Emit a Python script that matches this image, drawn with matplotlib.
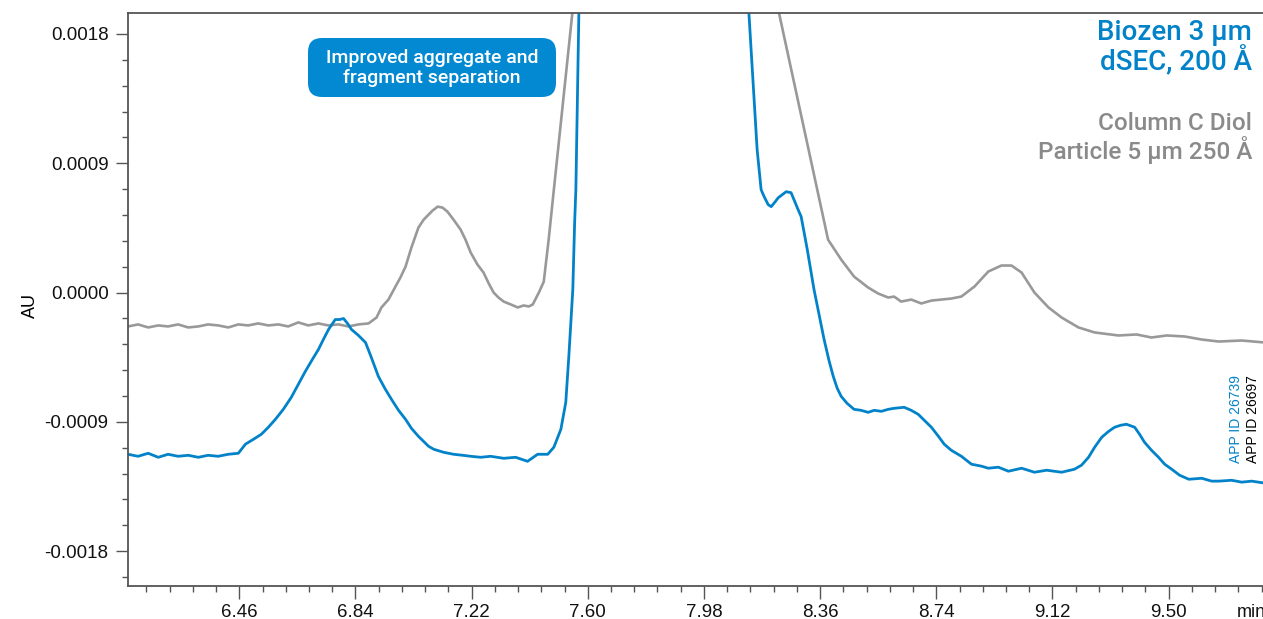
import matplotlib
matplotlib.use("Agg")
import matplotlib.pyplot as plt
from matplotlib.patches import FancyBboxPatch
from matplotlib.ticker import FixedLocator, MultipleLocator

# -------------------------------
# Datos (min, AU) leidos del cromatograma
# -------------------------------
gray_time = [
    6.096, 6.129, 6.162, 6.195, 6.227, 6.260, 6.293, 6.326, 6.358, 6.391,
    6.424, 6.457, 6.489, 6.522, 6.555, 6.588, 6.620, 6.653, 6.686, 6.719,
    6.751, 6.784, 6.817, 6.850, 6.883, 6.909, 6.925, 6.948, 6.971, 6.987,
    7.004, 7.023, 7.046, 7.063, 7.079, 7.092, 7.109, 7.125, 7.141, 7.161,
    7.184, 7.200, 7.217, 7.239, 7.259, 7.276, 7.292, 7.308, 7.325, 7.348,
    7.371, 7.390, 7.407, 7.420, 7.440, 7.456, 7.472, 7.489, 7.623, 7.849,
    8.075, 8.386, 8.429, 8.471, 8.517, 8.550, 8.583, 8.602, 8.625, 8.658,
    8.691, 8.724, 8.756, 8.789, 8.822, 8.865, 8.910, 8.953, 8.986, 9.019,
    9.061, 9.107, 9.150, 9.205, 9.258, 9.336, 9.395, 9.444, 9.494, 9.553,
    9.608, 9.664, 9.739, 9.815,
]
gray_au = [
    -0.000236, -0.000222, -0.000243, -0.000229, -0.000236, -0.000222, -0.000243, -0.000236, -0.000222, -0.000229,
    -0.000243, -0.000222, -0.000229, -0.000215, -0.000229, -0.000222, -0.000236, -0.000208, -0.000229, -0.000215,
    -0.000229, -0.000222, -0.000236, -0.000222, -0.000215, -0.000174, -0.000104, -0.000049, 0.000042, 0.000104,
    0.000181, 0.000313, 0.000452, 0.000507, 0.000542, 0.000570, 0.000598, 0.000591, 0.000563, 0.000507,
    0.000438, 0.000368, 0.000278, 0.000195, 0.000139, 0.000063, 0.000000, -0.000035, -0.000063, -0.000083,
    -0.000104, -0.000090, -0.000097, -0.000083, 0.000000, 0.000076, 0.000368, 0.000716, 0.003440, 0.006210,
    0.003426, 0.000368, 0.000229, 0.000111, 0.000035, -0.000007, -0.000035, -0.000028, -0.000063, -0.000049,
    -0.000076, -0.000056, -0.000049, -0.000042, -0.000028, 0.000042, 0.000146, 0.000188, 0.000188, 0.000139,
    0.000000, -0.000104, -0.000174, -0.000243, -0.000278, -0.000299, -0.000292, -0.000313, -0.000299, -0.000306,
    -0.000327, -0.000341, -0.000334, -0.000348,
]

blue_time = [
    6.096, 6.129, 6.162, 6.195, 6.227, 6.260, 6.293, 6.326, 6.358, 6.391,
    6.424, 6.457, 6.480, 6.506, 6.532, 6.555, 6.578, 6.604, 6.630, 6.653,
    6.676, 6.699, 6.719, 6.735, 6.752, 6.774, 6.788, 6.801, 6.814, 6.827,
    6.850, 6.873, 6.892, 6.915, 6.938, 6.958, 6.981, 7.004, 7.023, 7.046,
    7.063, 7.079, 7.096, 7.128, 7.161, 7.191, 7.217, 7.250, 7.282, 7.325,
    7.364, 7.403, 7.436, 7.469, 7.489, 7.512, 7.528, 7.538, 7.551, 7.557,
    7.561, 7.571, 7.584, 7.839, 8.108, 8.127, 8.154, 8.167, 8.177, 8.190,
    8.200, 8.213, 8.223, 8.249, 8.265, 8.288, 8.298, 8.318, 8.340, 8.357,
    8.373, 8.389, 8.403, 8.416, 8.429, 8.448, 8.471, 8.494, 8.517, 8.537,
    8.560, 8.583, 8.602, 8.635, 8.658, 8.681, 8.701, 8.724, 8.747, 8.766,
    8.789, 8.822, 8.855, 8.888, 8.910, 8.943, 8.976, 9.019, 9.061, 9.101,
    9.150, 9.192, 9.215, 9.238, 9.258, 9.281, 9.304, 9.323, 9.343, 9.362,
    9.389, 9.405, 9.421, 9.444, 9.467, 9.487, 9.510, 9.536, 9.566, 9.608,
    9.641, 9.664, 9.706, 9.739, 9.772, 9.815,
]
blue_au = [
    -0.001126, -0.001140, -0.001119, -0.001147, -0.001126, -0.001140, -0.001133, -0.001147, -0.001133, -0.001140,
    -0.001126, -0.001119, -0.001056, -0.001022, -0.000987, -0.000938, -0.000883, -0.000813, -0.000730, -0.000639,
    -0.000549, -0.000466, -0.000396, -0.000327, -0.000257, -0.000188, -0.000188, -0.000181, -0.000215, -0.000257,
    -0.000299, -0.000348, -0.000452, -0.000584, -0.000674, -0.000744, -0.000820, -0.000883, -0.000945, -0.001001,
    -0.001036, -0.001070, -0.001091, -0.001112, -0.001126, -0.001133, -0.001140, -0.001147, -0.001140, -0.001154,
    -0.001147, -0.001175, -0.001126, -0.001126, -0.001077, -0.000952, -0.000765, -0.000445, 0.000021, 0.000487,
    0.000716, 0.001946, 0.004121, 0.007600, 0.004121, 0.001946, 0.000994, 0.000716, 0.000667, 0.000612,
    0.000598, 0.000632, 0.000660, 0.000702, 0.000695, 0.000577, 0.000528, 0.000299, 0.000021, -0.000160,
    -0.000327, -0.000473, -0.000584, -0.000667, -0.000723, -0.000771, -0.000813, -0.000820, -0.000834, -0.000820,
    -0.000827, -0.000813, -0.000806, -0.000799, -0.000820, -0.000848, -0.000890, -0.000938, -0.001001, -0.001056,
    -0.001098, -0.001140, -0.001195, -0.001209, -0.001223, -0.001216, -0.001244, -0.001223, -0.001251, -0.001237,
    -0.001251, -0.001230, -0.001202, -0.001147, -0.001077, -0.001008, -0.000966, -0.000938, -0.000924, -0.000917,
    -0.000938, -0.000987, -0.001042, -0.001098, -0.001147, -0.001195, -0.001230, -0.001272, -0.001300, -0.001293,
    -0.001313, -0.001313, -0.001307, -0.001320, -0.001313, -0.001327,
]

x_ticks = [6.46, 6.84, 7.22, 7.60, 7.98, 8.36, 8.74, 9.12, 9.50]
y_ticks = [-0.0018, -0.0009, 0.0, 0.0009, 0.0018]
y_labels = ["-0.0018", "-0.0009", "0.0000", "0.0009", "0.0018"]

BLUE = "#0283c9"
GRAY = "#999999"
AXIS = "#555555"

# -------------------------------
# Figura
# -------------------------------
plt.rcParams["font.family"] = ["Liberation Sans", "DejaVu Sans"]

fig = plt.figure(figsize=(12.63, 6.19), dpi=100)
ax = fig.add_axes([128 / 1263, 33 / 619, 1 - 128 / 1263 + 0.01, 573 / 619])

ax.plot(gray_time, gray_au, color=GRAY, lw=1.9, solid_joinstyle="round")
ax.plot(blue_time, blue_au, color=BLUE, lw=2.0, solid_joinstyle="round")

ax.set_xlim(6.096, 9.85)
ax.set_ylim(-0.002043, 0.001946)

ax.xaxis.set_major_locator(FixedLocator(x_ticks))
ax.xaxis.set_minor_locator(MultipleLocator(0.076))
ax.set_xticklabels([f"{t:.2f}" for t in x_ticks])
ax.yaxis.set_major_locator(FixedLocator(y_ticks))
ax.yaxis.set_minor_locator(MultipleLocator(0.00018))
ax.set_yticklabels(y_labels)

ax.spines["right"].set_visible(False)
for s in ["left", "bottom", "top"]:
    ax.spines[s].set_color(AXIS)
    ax.spines[s].set_linewidth(1.3)

ax.tick_params(which="major", length=9, width=1, color=AXIS, labelsize=13.5,
               labelcolor="#111111")
ax.tick_params(which="minor", length=4.5, width=1, color=AXIS)
ax.tick_params(axis="x", which="major", pad=4)
ax.tick_params(axis="y", which="major", pad=5)

ax.set_ylabel("AU", fontsize=13, labelpad=4)
ax.yaxis.set_label_coords(-0.078, 0.49)
ax.text(9.722, -0.00217, "min", fontsize=13, color="#111111",
        ha="left", va="top", clip_on=False)

# -------------------------------
# Recuadro y leyendas
# -------------------------------
box = FancyBboxPatch((3.08, 5.22), 2.48, 0.59,
                     boxstyle="round,pad=0,rounding_size=0.14",
                     transform=fig.dpi_scale_trans, facecolor="#0289d1",
                     edgecolor="none", zorder=5)
fig.patches.append(box)
fig.text(4.32 / 12.63, 5.51 / 6.19,
         "Improved aggregate and\nfragment separation",
         ha="center", va="center", color="white", fontsize=14,
         family="Roboto", fontweight="medium", linespacing=1.2, zorder=6)

fig.text(1252 / 1263, 1 - 19 / 619, "Biozen 3 µm\ndSEC, 200 Å",
         ha="right", va="top", color=BLUE, fontsize=20, family="Roboto",
         fontweight="medium", linespacing=1.0)
fig.text(1252 / 1263, 1 - 112 / 619, "Column C Diol\nParticle 5 µm 250 Å",
         ha="right", va="top", color="#8a8a8a", fontsize=17.5, family="Roboto",
         fontweight="medium", linespacing=1.05)

fig.text(1236 / 1263, 1 - 463 / 619, "APP ID 26739", rotation=90,
         ha="center", va="bottom", color=BLUE, fontsize=10)
fig.text(1253 / 1263, 1 - 463 / 619, "APP ID 26697", rotation=90,
         ha="center", va="bottom", color="black", fontsize=10)

fig.savefig("out.png", dpi=100)
